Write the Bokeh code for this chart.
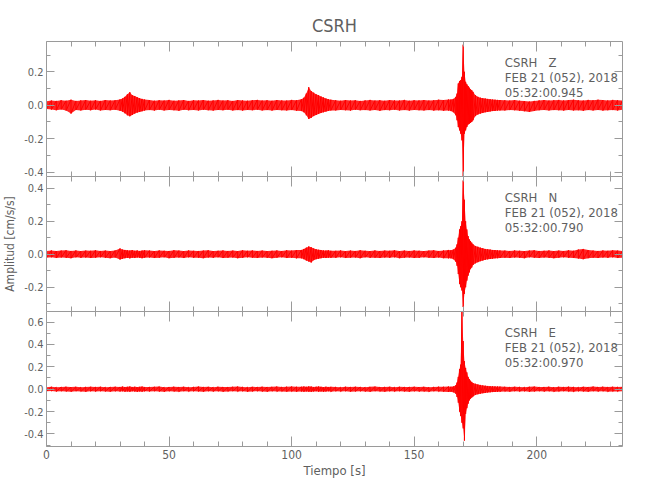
from bokeh.plotting import figure
from bokeh.layouts import column
from bokeh.models import Range1d, FixedTicker, LinearAxis, Label, PrintfTickFormatter
from bokeh.embed import file_html
from bokeh.resources import INLINE

FONT = "DejaVu Sans Condensed, Liberation Sans, sans-serif"
TXT = "#5f5f5f"
AX = "#9a9a9a"
RED = "#ff0000"

# ---- data (seconds; envelope peaks, cm/s/s) ----
time_s = [0, 2, 4, 6, 8, 10, 12, 14, 16, 18, 20, 22, 24, 26, 28,
          30, 31, 32, 33, 34, 35, 36, 37, 38, 39, 40,
          42, 44, 46, 48, 50, 52, 54, 56, 58, 60, 62, 64, 66, 68, 70, 72, 74, 76, 78, 80,
          82, 84, 86, 88, 90, 92, 94, 96, 98, 100, 102,
          104, 105, 106, 107, 108, 109, 110, 111, 112, 113, 114, 115, 116,
          118, 120, 122, 124, 126, 128, 130, 132, 134, 136, 138, 140, 142, 144, 146, 148,
          150, 152, 154, 156, 158, 160, 162, 164,
          165, 166, 167, 167.5, 168, 168.5, 169, 169.5, 170, 170.5, 171, 171.5, 172, 172.5,
          173, 173.5, 174,
          175, 176, 177, 178, 179, 180, 181, 182, 183, 184, 185,
          187, 189, 191, 193, 195, 197, 199, 201, 203, 205, 207, 209, 211, 213, 215, 217,
          219, 221, 223, 225, 227, 229, 231, 233, 235]

z_up = [.024, .028, .026, .030, .027, .033, .026, .029, .031, .027, .030, .026, .031, .028, .030,
        .035, .040, .050, .065, .078, .060, .055, .048, .042, .038, .034,
        .031, .027, .030, .028, .032, .027, .029, .031, .026, .030, .028, .031, .027, .029, .032, .028,
        .030, .026, .031, .029, .027, .030, .032, .028, .030, .027, .031, .029, .028, .032, .030,
        .036, .045, .070, .108, .085, .075, .065, .060, .052, .046, .040, .036, .033,
        .030, .027, .031, .028, .030, .026, .029, .032, .028, .030, .027, .031, .029, .028, .032, .027,
        .030, .029, .031, .028, .030, .033, .031, .034,
        .034, .038, .050, .070, .130, .145, .150, .170, .362, .200, .140, .125, .115, .105, .095, .090, .080,
        .060, .050, .045, .042, .040, .038, .036, .034, .033, .032, .031,
        .030, .028, .031, .027, .025, .022, .026, .029, .031, .028, .030, .032, .029, .031, .033, .030,
        .028, .032, .030, .033, .031, .029, .032, .030, .028]
z_lo = [-.022, -.026, -.030, -.025, -.032, -.050, -.028, -.031, -.027, -.030, -.026, -.031, -.028, -.030, -.027,
        -.033, -.038, -.048, -.060, -.066, -.058, -.050, -.044, -.040, -.036, -.032,
        -.029, -.032, -.027, -.031, -.028, -.030, -.033, -.027, -.030, -.028, -.031, -.027, -.030, -.032, -.028, -.030,
        -.027, -.031, -.029, -.032, -.028, -.030, -.027, -.031, -.029, -.032, -.028, -.030, -.031, -.029, -.033,
        -.035, -.042, -.060, -.082, -.075, -.065, -.058, -.052, -.046, -.042, -.038, -.034, -.031,
        -.031, -.028, -.030, -.032, -.027, -.030, -.029, -.031, -.028, -.033, -.029, -.030, -.027, -.031, -.029, -.032,
        -.028, -.030, -.031, -.029, -.032, -.030, -.033, -.032,
        -.035, -.042, -.060, -.090, -.130, -.150, -.170, -.210, -.430, -.170, -.150, -.130, -.115, -.110, -.105, -.100, -.090,
        -.065, -.055, -.050, -.046, -.042, -.040, -.037, -.035, -.034, -.032, -.031,
        -.031, -.029, -.030, -.033, -.036, -.040, -.034, -.030, -.028, -.031, -.029, -.030, -.032, -.028, -.031, -.030,
        -.033, -.029, -.031, -.028, -.032, -.030, -.029, -.031, -.027]

n_up = [.020, .023, .019, .022, .024, .020, .023, .019, .022, .021, .024, .020, .022, .019, .023,
        .035, .028, .026, .024, .022, .025, .021, .023, .020, .022, .024,
        .022, .019, .023, .021, .020, .024, .022, .019, .023, .021, .020, .022, .024, .019, .021, .023,
        .020, .022, .019, .024, .021, .023, .020, .022, .019, .021, .023, .020, .024, .022, .025,
        .026, .032, .040, .047, .042, .035, .030, .027, .025, .023, .022, .024, .021,
        .021, .023, .019, .022, .020, .024, .021, .019, .023, .020, .022, .021, .024, .019, .022, .020,
        .023, .021, .019, .022, .024, .020, .023, .026,
        .024, .028, .040, .060, .100, .150, .170, .200, .447, .330, .200, .150, .110, .090, .080, .070, .060,
        .050, .045, .040, .036, .032, .030, .028, .026, .025, .024, .023,
        .022, .020, .023, .021, .019, .022, .024, .020, .021, .023, .019, .022, .020, .024, .021, .028,
        .032, .025, .022, .020, .023, .021, .024, .022, .020]
n_lo = [-.021, -.019, -.023, -.020, -.022, -.024, -.019, -.022, -.020, -.023, -.021, -.019, -.022, -.024, -.020,
        -.032, -.027, -.024, -.022, -.025, -.021, -.023, -.020, -.022, -.024, -.021,
        -.020, -.023, -.021, -.019, -.024, -.022, -.020, -.023, -.019, -.022, -.021, -.024, -.020, -.022, -.019, -.023,
        -.021, -.020, -.024, -.022, -.019, -.021, -.023, -.020, -.022, -.024, -.021, -.019, -.023, -.022, -.025,
        -.025, -.030, -.038, -.044, -.050, -.036, -.030, -.027, -.024, -.022, -.023, -.021, -.022,
        -.022, -.019, -.023, -.021, -.020, -.024, -.019, -.022, -.021, -.023, -.020, -.022, -.019, -.024, -.021, -.020,
        -.023, -.022, -.019, -.021, -.023, -.020, -.024, -.025,
        -.025, -.030, -.045, -.070, -.120, -.180, -.200, -.220, -.320, -.240, -.200, -.160, -.130, -.110, -.090, -.080, -.065,
        -.055, -.048, -.042, -.038, -.034, -.031, -.029, -.027, -.025, -.024, -.023,
        -.021, -.023, -.020, -.022, -.024, -.019, -.021, -.023, -.020, -.022, -.024, -.021, -.019, -.022, -.023, -.026,
        -.030, -.024, -.021, -.023, -.020, -.022, -.019, -.023, -.021]

e_up = [.018, .021, .017, .020, .022, .019, .021, .018, .020, .022, .019, .021, .018, .020, .022,
        .020, .023, .019, .021, .024, .020, .022, .019, .021, .023, .020,
        .019, .021, .023, .018, .020, .022, .019, .021, .018, .020, .023, .019, .021, .018, .022, .020,
        .019, .021, .023, .020, .018, .021, .019, .022, .020, .021, .023, .020, .022, .024, .021,
        .022, .024, .021, .025, .023, .020, .022, .024, .021, .019, .022, .020, .021,
        .020, .018, .021, .019, .022, .020, .018, .021, .023, .019, .020, .022, .018, .021, .019, .020,
        .022, .019, .021, .018, .020, .022, .021, .024,
        .022, .025, .035, .060, .110, .180, .220, .740, .430, .250, .190, .150, .110, .090, .075, .065, .055,
        .048, .042, .038, .034, .031, .029, .027, .026, .025, .024, .023,
        .021, .019, .022, .020, .018, .021, .023, .019, .020, .022, .018, .021, .019, .022, .020, .018,
        .021, .019, .023, .020, .022, .019, .021, .020, .022]
e_lo = [-.019, -.017, -.021, -.018, -.020, -.022, -.018, -.020, -.023, -.019, -.021, -.018, -.020, -.022, -.019,
        -.021, -.019, -.022, -.020, -.023, -.019, -.021, -.024, -.020, -.022, -.019,
        -.020, -.018, -.021, -.023, -.019, -.020, -.022, -.018, -.021, -.019, -.020, -.023, -.018, -.021, -.019, -.022,
        -.020, -.018, -.021, -.019, -.023, -.020, -.018, -.021, -.022, -.019, -.021, -.020, -.022, -.021, -.023,
        -.021, -.023, -.020, -.022, -.024, -.021, -.019, -.022, -.020, -.023, -.021, -.019, -.022,
        -.019, -.021, -.018, -.022, -.020, -.019, -.021, -.023, -.018, -.020, -.022, -.019, -.021, -.018, -.020, -.022,
        -.019, -.021, -.020, -.023, -.019, -.021, -.022, -.025,
        -.023, -.028, -.040, -.070, -.120, -.200, -.240, -.300, -.350, -.460, -.220, -.170, -.130, -.100, -.085, -.075, -.065,
        -.052, -.045, -.040, -.036, -.033, -.030, -.028, -.026, -.025, -.024, -.022,
        -.020, -.022, -.018, -.021, -.019, -.023, -.020, -.018, -.021, -.019, -.022, -.020, -.018, -.021, -.023, -.019,
        -.020, -.022, -.018, -.021, -.019, -.022, -.020, -.021, -.019]

components = ["Z", "N", "E"]
start_times = ["05:32:00.945", "05:32:00.790", "05:32:00.970"]
date_text = "FEB 21 (052), 2018"
station = "CSRH"

x_major = [0, 50, 100, 150, 200]
x_minor = [10, 20, 30, 40, 60, 70, 80, 90, 110, 120, 130, 140, 160, 170, 180, 190, 210, 220, 230]
y_ranges = [(-0.426, 0.381), (-0.347, 0.471), (-0.512, 0.694)]
y_major = [[-0.4, -0.2, 0.0, 0.2], [-0.2, 0.0, 0.2, 0.4], [-0.4, -0.2, 0.0, 0.2, 0.4, 0.6]]
y_minor = [[-0.3, -0.1, 0.1, 0.3], [-0.3, -0.1, 0.1, 0.3], [-0.5, -0.3, -0.1, 0.1, 0.3, 0.5]]
traces = [(z_up, z_lo), (n_up, n_lo), (e_up, e_lo)]

for u, l in traces:
    assert len(u) == len(time_s) and len(l) == len(time_s)

FW, FH = 576, 135
LEFT = 40
OVERFLOW_CSS = (":host { overflow: visible !important; } "
                "div, canvas, svg { overflow: visible !important; }")


def style_axis(ax, labels, major_in, minor_in):
    ax.axis_line_color = AX
    ax.major_tick_line_color = AX
    ax.minor_tick_line_color = AX
    ax.major_tick_out = 0
    ax.minor_tick_out = 0
    ax.major_tick_in = major_in
    ax.minor_tick_in = minor_in
    ax.major_label_text_font = FONT
    ax.axis_label_text_font = FONT
    ax.axis_label_text_color = TXT
    ax.axis_label_text_font_style = "normal"
    if labels:
        ax.major_label_text_color = TXT
        ax.major_label_text_font_size = "11px"
        ax.major_label_standoff = 3
    else:
        ax.major_label_text_color = None
        ax.major_label_standoff = 0


figs = []
for i in range(3):
    y0, y1 = y_ranges[i]
    top = 41 if i == 0 else 0
    bottom = 40 if i == 2 else 0
    p = figure(frame_width=FW, frame_height=FH,
               x_range=Range1d(0, 235), y_range=Range1d(y0, y1),
               output_backend="svg", toolbar_location=None,
               x_axis_location=None, y_axis_location=None,
               min_border_left=LEFT, min_border_right=10,
               min_border_top=top, min_border_bottom=bottom)
    p.outline_line_color = None
    p.background_fill_color = None
    p.border_fill_color = None
    p.xgrid.visible = False
    p.ygrid.visible = False
    p.stylesheets = [OVERFLOW_CSS]

    xt = FixedTicker(ticks=x_major, minor_ticks=x_minor)
    yt = FixedTicker(ticks=y_major[i], minor_ticks=y_minor[i])

    for side in ("below", "above"):
        ax = LinearAxis(ticker=xt, formatter=PrintfTickFormatter(format="%d"))
        lab = side == "below" and i == 2
        style_axis(ax, lab, 10, 5)
        if side == "below" and i < 2:
            ax.axis_line_color = None
        if lab:
            ax.major_label_text_font_size = "12px"
            ax.axis_label = "Tiempo [s]"
            ax.axis_label_text_font_size = "13px"
            ax.axis_label_standoff = 1
        p.add_layout(ax, side)
    for side in ("left", "right"):
        ax = LinearAxis(ticker=yt, formatter=PrintfTickFormatter(format="%.1f"))
        style_axis(ax, side == "left", 8, 4)
        if side == "left" and i == 1:
            ax.axis_label = "Amplitud [cm/s/s]"
            ax.axis_label_text_font_size = "12px"
            ax.axis_label_standoff = 4
        p.add_layout(ax, side)

    up, lo = traces[i]
    p.varea(x=time_s, y1=lo, y2=up, fill_color=RED, fill_alpha=0.85)
    zx, zy = [], []
    for t, a, b in zip(time_s, up, lo):
        zx += [t, t]
        zy += [a, b]
    p.line(zx, zy, line_color=RED, line_width=1)

    ppu = (y1 - y0) / FH
    head = station + "\u00a0\u00a0\u00a0" + components[i]
    for txt, off in zip([head, date_text, start_times[i]], [21, 35.5, 50.5]):
        p.add_layout(Label(x=187, y=y1 - off * ppu, text=txt, text_font=FONT,
                           text_font_size="13px", text_color=TXT, text_baseline="middle"))

    if i == 0:
        p.title.text = station
        p.title.align = "center"
        p.title.text_font = FONT
        p.title.text_font_size = "18px"
        p.title.text_font_style = "normal"
        p.title.text_color = TXT
        p.title.standoff = 12
    figs.append(p)

layout = column(*figs, spacing=0)
open("out.html", "w").write(file_html(layout, INLINE))
